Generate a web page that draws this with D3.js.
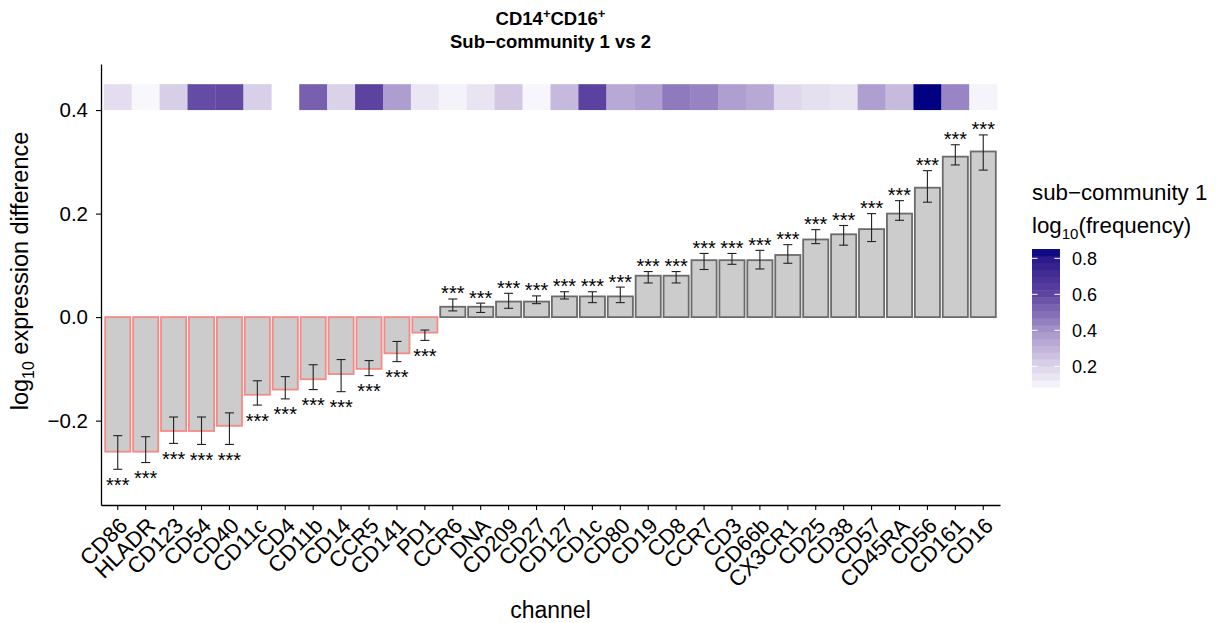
<!DOCTYPE html>
<head>
  <meta charset="utf-8">
  <script src="https://d3js.org/d3.v7.min.js"></script>
  <style>
    body { margin: 0; background: #fff; }
    text { font-family: "Liberation Sans", Arial, Helvetica, sans-serif; }
  </style>
</head>
<body>
  <script>
    // channels in plotted order (sorted by difference)
    var channels = ['CD86', 'HLADR', 'CD123', 'CD54', 'CD40', 'CD11c', 'CD4', 'CD11b', 'CD14', 'CCR5', 'CD141', 'PD1',
      'CCR6', 'DNA', 'CD209', 'CD27', 'CD127', 'CD1c', 'CD80', 'CD19', 'CD8', 'CCR7', 'CD3', 'CD66b', 'CX3CR1',
      'CD25', 'CD38', 'CD57', 'CD45RA', 'CD56', 'CD161', 'CD16'];

    // log10 expression difference (bar height)
    var diffs = [-0.26, -0.26, -0.22, -0.22, -0.21, -0.15, -0.14, -0.12, -0.11, -0.10, -0.07, -0.03,
      0.02, 0.02, 0.03, 0.03, 0.04, 0.04, 0.04, 0.08, 0.08, 0.11, 0.11, 0.11, 0.12,
      0.15, 0.16, 0.17, 0.20, 0.25, 0.31, 0.32];

    // error bar ends
    var errLow = [-0.294, -0.281, -0.244, -0.246, -0.246, -0.170, -0.158, -0.140, -0.144, -0.113, -0.086, -0.045,
      0.012, 0.009, 0.017, 0.026, 0.035, 0.028, 0.028, 0.066, 0.066, 0.092, 0.102, 0.093, 0.104,
      0.142, 0.139, 0.146, 0.187, 0.222, 0.294, 0.284];
    var errHigh = [-0.229, -0.231, -0.193, -0.193, -0.185, -0.123, -0.115, -0.092, -0.082, -0.084, -0.047, -0.025,
      0.035, 0.027, 0.046, 0.041, 0.049, 0.049, 0.058, 0.088, 0.088, 0.123, 0.123, 0.129, 0.140,
      0.169, 0.177, 0.200, 0.225, 0.283, 0.333, 0.352];

    // significance labels
    var signif = channels.map(function() { return '***'; });

    // sub-community 1 log10(frequency), null = not present
    var freq = [0.169, 0.085, 0.220, 0.585, 0.590, 0.215, null, 0.530, 0.207, 0.610, 0.369, 0.140,
      0.097, 0.146, 0.236, 0.088, 0.283, 0.612, 0.334, 0.362, 0.465, 0.440, 0.362, 0.336, 0.188,
      0.162, 0.146, 0.365, 0.280, 0.852, 0.435, 0.094];

    var yTicks = [-0.2, 0.0, 0.2, 0.4];
    var legendTicks = [0.2, 0.4, 0.6, 0.8];
    var yDomain = [-0.363, 0.489];
    var freqDomain = [0.085, 0.852];

    var outerWidth = 1219,
      outerHeight = 623;

    var margin = { top: 64, left: 101, right: 219, bottom: 118 };
    var width = outerWidth - margin.left - margin.right,
      height = outerHeight - margin.top - margin.bottom;

    var xScale = d3.scaleBand()
      .domain(channels)
      .range([0, width])
      .paddingInner(0.1)
      .paddingOuter(0.15);

    var yScale = d3.scaleLinear()
      .domain(yDomain)
      .range([height, 0]);

    // purple -> navy colour ramp
    var colorScale = d3.scaleLinear()
      .domain([0.085, 0.2, 0.4, 0.6, 0.8, 0.852])
      .range(['#f8f7fc', '#dcd4ea', '#a593ca', '#5f45a0', '#2c1a8c', '#000080'])
      .interpolate(d3.interpolateRgb);

    var rows = channels.map(function(c, i) {
      return { channel: c, diff: diffs[i], low: errLow[i], high: errHigh[i], sig: signif[i], freq: freq[i] };
    });

    var svgRoot = d3.select('body')
      .append('svg')
      .attr('width', outerWidth)
      .attr('height', outerHeight);

    var svg = svgRoot.append('g')
      .attr('transform', 'translate(' + margin.left + ' ' + margin.top + ')');

    var step = xScale.step();
    var cx = function(d) { return xScale(d.channel) + xScale.bandwidth() / 2; };

    // frequency strip above bars
    svg.selectAll('.tile')
      .data(rows.filter(function(d) { return d.freq !== null; }))
      .enter().append('rect')
      .attr('class', 'tile')
      .attr('x', function(d) { return cx(d) - step / 2; })
      .attr('width', step + 0.3)
      .attr('y', yScale(0.45))
      .attr('height', yScale(0.4) - yScale(0.45))
      .attr('fill', function(d) { return colorScale(d.freq); });

    // bars
    svg.selectAll('.bar')
      .data(rows)
      .enter().append('rect')
      .attr('class', 'bar')
      .attr('x', function(d) { return xScale(d.channel); })
      .attr('width', xScale.bandwidth())
      .attr('y', function(d) { return yScale(Math.max(0, d.diff)); })
      .attr('height', function(d) { return Math.abs(yScale(d.diff) - yScale(0)); })
      .attr('fill', '#cccccc')
      .attr('stroke', function(d) { return d.diff < 0 ? '#f38a86' : '#6b6b6b'; })
      .attr('stroke-width', 1.8);

    // error bars
    var cap = 4.5;
    var errs = svg.selectAll('.err')
      .data(rows)
      .enter().append('g')
      .attr('class', 'err')
      .attr('stroke', '#222')
      .attr('stroke-width', 1.1);
    errs.append('line')
      .attr('x1', cx).attr('x2', cx)
      .attr('y1', function(d) { return yScale(d.low); })
      .attr('y2', function(d) { return yScale(d.high); });
    errs.append('line')
      .attr('x1', function(d) { return cx(d) - cap; })
      .attr('x2', function(d) { return cx(d) + cap; })
      .attr('y1', function(d) { return yScale(d.low); })
      .attr('y2', function(d) { return yScale(d.low); });
    errs.append('line')
      .attr('x1', function(d) { return cx(d) - cap; })
      .attr('x2', function(d) { return cx(d) + cap; })
      .attr('y1', function(d) { return yScale(d.high); })
      .attr('y2', function(d) { return yScale(d.high); });

    // significance stars: above for positive, below for negative
    svg.selectAll('.sig')
      .data(rows)
      .enter().append('text')
      .attr('class', 'sig')
      .attr('x', cx)
      .attr('y', function(d) { return d.diff < 0 ? yScale(d.low) + 22.5 : yScale(d.high) + 1.5; })
      .attr('text-anchor', 'middle')
      .style('font-size', '20px')
      .text(function(d) { return d.sig; });

    // axes
    var yAxis = d3.axisLeft(yScale)
      .tickValues(yTicks)
      .tickFormat(d3.format('.1f'))
      .tickSize(5)
      .tickPadding(8)
      .tickSizeOuter(0);
    var yg = svg.append('g').call(yAxis);
    yg.selectAll('text').style('font-size', '20.5px').attr('fill', '#000');

    var xAxis = d3.axisBottom(xScale)
      .tickSize(5)
      .tickSizeOuter(0);
    var xg = svg.append('g')
      .attr('transform', 'translate(0 ' + height + ')')
      .call(xAxis);
    xg.selectAll('text')
      .attr('y', 0)
      .attr('dy', '0.71em')
      .attr('text-anchor', 'end')
      .attr('fill', '#000')
      .attr('transform', 'translate(0 11) rotate(-45)')
      .style('font-size', '22px');

    svg.selectAll('.domain').attr('stroke', '#000').attr('stroke-width', 1.3);
    svg.selectAll('.tick line').attr('stroke', '#000').attr('stroke-width', 1.1);

    // titles
    var title = svgRoot.append('text')
      .attr('x', margin.left + width / 2)
      .attr('y', 25)
      .attr('text-anchor', 'middle')
      .style('font-size', '18.5px')
      .style('font-weight', 'bold');
    title.append('tspan').text('CD14');
    title.append('tspan').attr('dy', -7).style('font-size', '13px').text('+');
    title.append('tspan').attr('dy', 7).text('CD16');
    title.append('tspan').attr('dy', -7).style('font-size', '13px').text('+');

    svgRoot.append('text')
      .attr('x', margin.left + width / 2)
      .attr('y', 48)
      .attr('text-anchor', 'middle')
      .style('font-size', '18.5px')
      .style('font-weight', 'bold')
      .text('Sub\u2212community 1 vs 2');

    svgRoot.append('text')
      .attr('x', margin.left + width / 2)
      .attr('y', 618)
      .attr('text-anchor', 'middle')
      .style('font-size', '23px')
      .text('channel');

    var yTitle = svgRoot.append('text')
      .attr('transform', 'translate(28 271) rotate(-90)')
      .attr('text-anchor', 'middle')
      .style('font-size', '23.5px');
    yTitle.append('tspan').text('log');
    yTitle.append('tspan').attr('dy', 6).style('font-size', '16px').text('10');
    yTitle.append('tspan').attr('dy', -6).text(' expression difference');

    // legend
    var legend = svgRoot.append('g').attr('transform', 'translate(1032 0)');
    legend.append('text')
      .attr('x', 0).attr('y', 200)
      .style('font-size', '22.3px')
      .text('sub\u2212community 1');
    var lt = legend.append('text')
      .attr('x', 0).attr('y', 233)
      .style('font-size', '22.3px');
    lt.append('tspan').text('log');
    lt.append('tspan').attr('dy', 6).style('font-size', '15px').text('10');
    lt.append('tspan').attr('dy', -6).text('(frequency)');

    var barW = 28;
    var legendScale = d3.scaleLinear().domain(freqDomain).range([387, 249]);
    var nbin = 20;
    var bins = d3.range(nbin).map(function(i) {
      return freqDomain[0] + (freqDomain[1] - freqDomain[0]) * (i + 0.5) / nbin;
    });
    var binH = (legendScale(freqDomain[0]) - legendScale(freqDomain[1])) / nbin;
    legend.selectAll('.bin')
      .data(bins)
      .enter().append('rect')
      .attr('class', 'bin')
      .attr('x', 0)
      .attr('width', barW)
      .attr('y', function(d) { return legendScale(d) - binH / 2; })
      .attr('height', binH + 0.4)
      .attr('fill', function(d) { return colorScale(d); });

    legendTicks.forEach(function(t) {
      var y = legendScale(t);
      legend.append('line').attr('x1', 0).attr('x2', 5.6).attr('y1', y).attr('y2', y)
        .attr('stroke', '#fff').attr('stroke-width', 1);
      legend.append('line').attr('x1', barW - 5.6).attr('x2', barW).attr('y1', y).attr('y2', y)
        .attr('stroke', '#fff').attr('stroke-width', 1);
      legend.append('text')
        .attr('x', barW + 12)
        .attr('y', y)
        .attr('dy', '0.35em')
        .style('font-size', '18px')
        .text(d3.format('.1f')(t));
    });
  </script>
</body>
